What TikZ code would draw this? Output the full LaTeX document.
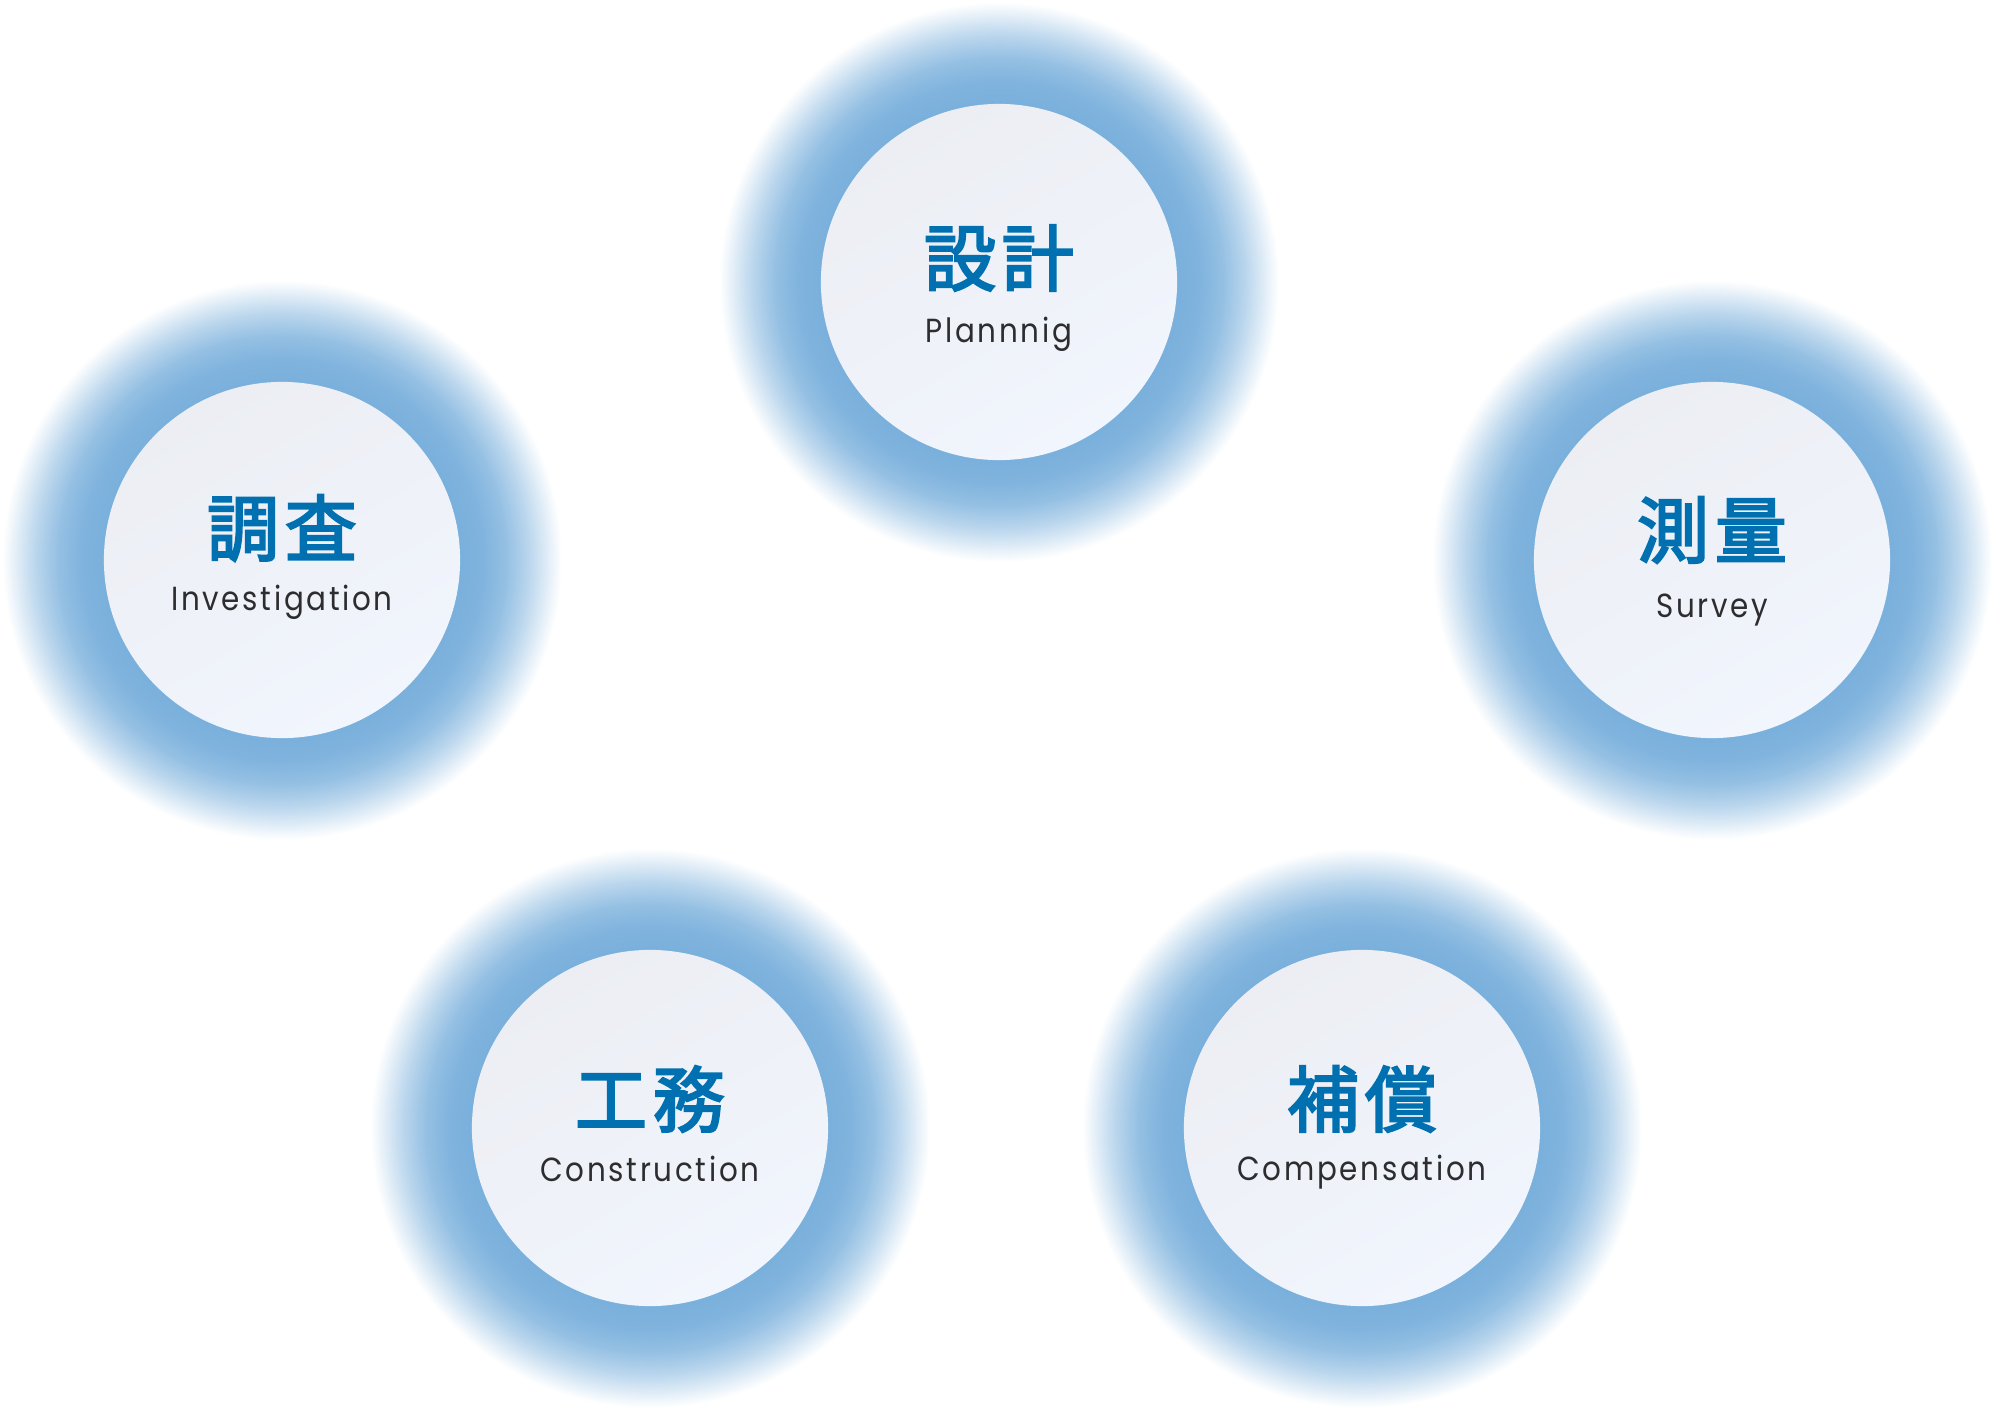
\documentclass[tikz,border=0pt]{standalone}
\usepackage{fontspec}
\usepackage{tikz}
\usetikzlibrary{calc}
\newfontfamily\jpfont{Noto Sans CJK JP}[FakeBold=3,LetterSpace=8]
\newfontfamily\enfont{Poppins}[LetterSpace=8,FakeStretch=0.88]
\definecolor{haloblue}{RGB}{122,176,220}
\definecolor{discA}{RGB}{236,238,243}
\definecolor{discB}{RGB}{241,245,253}
\definecolor{jpblue}{RGB}{0,112,176}
\definecolor{engray}{RGB}{45,45,48}
\pgfdeclareradialshading{halo}{\pgfpointorigin}{%
  color(0bp)=(haloblue); color(16bp)=(haloblue); color(18bp)=(haloblue!95);
  color(20bp)=(haloblue!80); color(22bp)=(haloblue!52); color(23.5bp)=(haloblue!26);
  color(24.5bp)=(haloblue!8); color(25bp)=(white); color(50bp)=(white)}
\tikzset{
    halo ring/.style={
        circle,inner sep=0pt,
        minimum size=5.6cm,
        shading=halo
    },
    work disc/.style={
        circle,inner sep=0pt,
        minimum size=3.56cm,
        shading=axis,top color=discA,bottom color=discB,shading angle=30
    },
    jp label/.style={
        inner sep=0pt,text=jpblue,
        font=\jpfont\fontsize{20.5}{24}\selectfont
    },
    en label/.style={
        inner sep=0pt,anchor=base,text=engray,
        font=\enfont\fontsize{9.5}{11}\selectfont
    }
}
\begin{document}
\begin{tikzpicture}[x=0.01cm,y=-0.01cm]
\useasboundingbox (0,0) rectangle (1994,1412);
\foreach \i/\x/\y/\jy/\ey/\jp/\en in {0/999/282/24/60/設計/Plannnig,1/282/560/32/50/調査/Investigation,2/1712/560/30/57/測量/Survey,3/650/1128/29/53/工務/Construction,4/1362/1128/29/52/補償/Compensation}{
    \node[halo ring] (halo_\i) at (\x,\y) {};
    \node[work disc] (disc_\i) at (halo_\i.center) {};
    \node[jp label] (jp_\i) at ([yshift=\jy*0.01cm]disc_\i.center) {\jp};
    \node[en label] (en_\i) at ([yshift=-\ey*0.01cm]disc_\i.center) {\en};
}
\end{tikzpicture}
\end{document}
